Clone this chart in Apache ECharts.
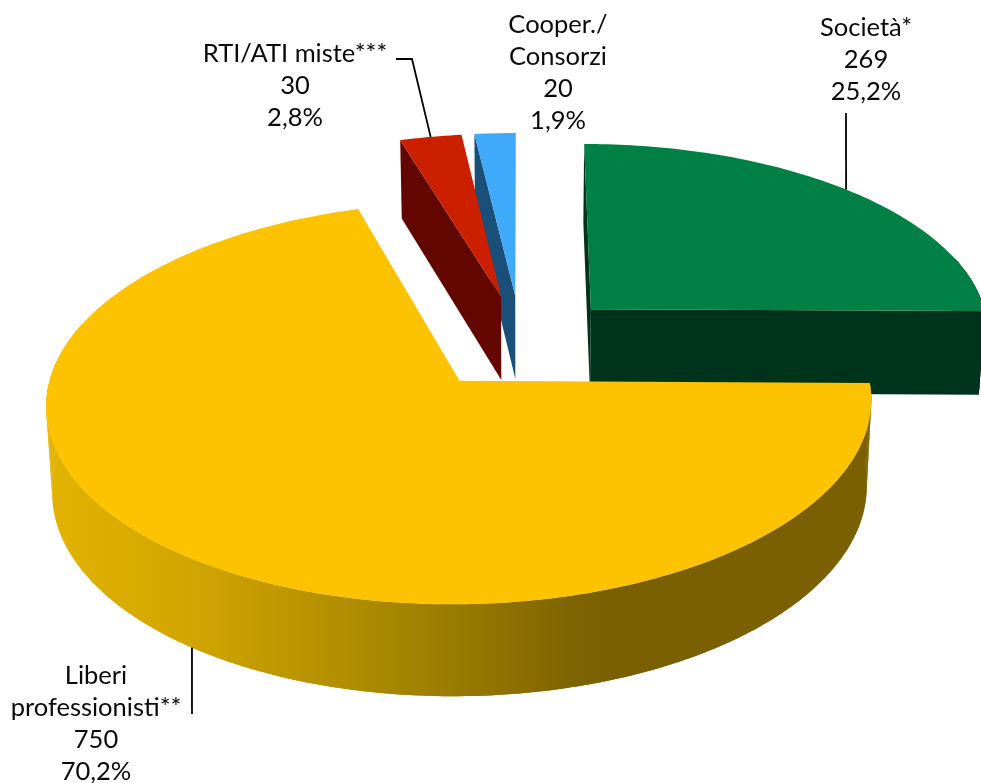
<!DOCTYPE html>
<html>
<head>
<meta charset="utf-8">
<style>html,body{margin:0;padding:0;background:#fff}#chart{width:981px;height:783px}</style>
<script src="https://cdn.jsdelivr.net/npm/echarts@6/dist/echarts.min.js"></script>
</head>
<body>
<div id="chart"></div>
<script>
// Soggetti per tipologia: torta esplosa in prospettiva
const categories = ['Società*', 'Liberi\nprofessionisti**', 'RTI/ATI miste***', 'Cooper./\nConsorzi'];
const values = [269, 750, 30, 20];

const topColors = ['#008044', '#FDC300', '#CC1F00', '#3FA9FA'];
const wallColors = ['#00331B', '#7A6000', '#640600', '#1A4F7A'];
const paintOrder = [0, 3, 2, 1];           // dal fondo verso l'osservatore
const labelBoxes = [
  { x: 866, y: 12 },
  { x: 96, y: 660 },
  { x: 295, y: 38 },
  { x: 558, y: 9 }
];
// Gomito del richiamo (null = nessun richiamo), in pixel
const leaderEnds = [
  [[846, 113]],
  [[192, 714]],
  [[412, 59], [396, 59]],
  null
];
const leaderNudge = [0, -0.0125, 0, 0];    // scarto angolare dell'attacco sul bordo

// Proiezione del piano della torta (u a destra, v verso il fondo)
const view = { cx: 521, cy: 342, sx: 401, sy: 190, persp: 0.109, depth: 84.5, converge: 0.987, explode: 0.25 };
const total = values.reduce((a, b) => a + b, 0);

function project(u, v, low) {
  const w = 1 + view.persp * v;
  const x = view.sx * u / w;
  const y = view.cy - view.sy * v / w;
  return low
    ? [view.cx + x * view.converge, y + view.depth / Math.pow(w, 0.6)]
    : [view.cx + x, y];
}

function sliceGeometry(index) {
  let before = 0;
  for (let i = 0; i < index; i++) before += values[i];
  const a0 = before / total * Math.PI * 2;
  const a1 = (before + values[index]) / total * Math.PI * 2;
  const mid = (a0 + a1) / 2;
  const ox = view.explode * Math.sin(mid);
  const oy = view.explode * Math.cos(mid);
  const rim = (a) => [ox + Math.sin(a), oy + Math.cos(a)];
  return { a0, a1, mid, ox, oy, rim };
}

// Una parete radiale si vede solo se il piano della fetta sta sopra il suo spigolo
function wallFacesViewer(apex, edge, inner) {
  const ex = edge[0] - apex[0];
  const ey = edge[1] - apex[1];
  const side = ex * (inner[1] - apex[1]) - ey * (inner[0] - apex[0]);
  return Math.abs(ex) > 2 && side * ex < 0;
}

function renderSlice(params, api) {
  const i = params.dataIndex;
  const g = sliceGeometry(i);
  const steps = Math.max(8, Math.ceil((g.a1 - g.a0) * 60));
  const arcTop = [];
  const arcLow = [];
  const wallTop = [];
  const wallLow = [];
  for (let s = 0; s <= steps; s++) {
    const a = g.a0 + (g.a1 - g.a0) * s / steps;
    const p = g.rim(a);
    const t = project(p[0], p[1], false);
    const l = project(p[0], p[1], true);
    arcTop.push(t);
    arcLow.push(l);
    // Il fianco curvo esiste solo nella parte rivolta verso l'osservatore
    if (Math.cos(a) < 0.3) {
      wallTop.push(t);
      wallLow.push(l);
    }
  }
  const last = arcTop.length - 1;
  const apexTop = project(g.ox, g.oy, false);
  const apexLow = project(g.ox, g.oy, true);
  const inner = arcTop[Math.round(steps / 2)];
  const base = (paintOrder.indexOf(i) + 1) * 10;

  // Il fianco della fetta gialla scurisce da sinistra verso destra
  const wallFill = i === 1 ? {
    type: 'linear', global: true, x: 46, y: 0, x2: 871, y2: 0,
    colorStops: [
      { offset: 0, color: '#E2B300' },
      { offset: 0.175, color: '#D2A600' },
      { offset: 0.308, color: '#BB9500' },
      { offset: 0.43, color: '#A58500' },
      { offset: 0.526, color: '#947600' },
      { offset: 0.635, color: '#7F6500' },
      { offset: 0.68, color: wallColors[1] },
      { offset: 1, color: wallColors[1] }
    ]
  } : wallColors[i];

  const poly = (points, fill, z2) => ({
    type: 'polygon', z2,
    shape: { points },
    style: { fill, stroke: null }
  });

  const children = [];
  if (wallFacesViewer(apexTop, arcTop[0], inner)) {
    children.push(poly([apexTop, arcTop[0], arcLow[0], apexLow], wallColors[i], base));
  }
  if (wallFacesViewer(apexTop, arcTop[last], inner)) {
    children.push(poly([apexTop, arcTop[last], arcLow[last], apexLow], wallColors[i], base + 1));
  }
  // I quadrilateri riempiono le tangenti della sagoma; la striscia unica copre le giunzioni
  for (let s = 0; s + 1 < wallTop.length; s++) {
    children.push(poly([wallTop[s], wallTop[s + 1], wallLow[s + 1], wallLow[s]], wallFill, base + 2));
  }
  if (wallTop.length > 1) {
    children.push(poly(wallTop.concat(wallLow.slice().reverse()), wallFill, base + 3));
  }
  children.push(poly([apexTop].concat(arcTop), topColors[i], base + 4));

  // Il richiamo parte dal bordo, sulla bisettrice della fetta
  if (leaderEnds[i]) {
    const p = g.rim(g.mid + leaderNudge[i]);
    const front = Math.cos(g.mid) < 0;
    children.push({
      type: 'polyline', z2: 100,
      shape: { points: [project(p[0], p[1], front)].concat(leaderEnds[i]) },
      style: { fill: null, stroke: '#000', lineWidth: 1.8 }
    });
  }

  const pct = (api.value(1) / total * 100).toFixed(1).replace('.', ',') + '%';
  children.push({
    type: 'text', z2: 100,
    style: {
      text: categories[i] + '\n' + api.value(1) + '\n' + pct,
      x: labelBoxes[i].x, y: labelBoxes[i].y,
      align: 'center', verticalAlign: 'top',
      fontFamily: 'Lato', fontSize: 25.5, lineHeight: 31.8, fill: '#0a0a0a'
    }
  });
  return { type: 'group', children };
}

const chart = echarts.init(document.getElementById('chart'), null, { renderer: 'canvas' });
chart.setOption({
  animation: false,
  backgroundColor: '#fff',
  series: [{
    type: 'custom',
    coordinateSystem: 'none',
    silent: true,
    renderItem: renderSlice,
    data: values.map((v, i) => [i, v])
  }]
});
</script>
</body>
</html>
